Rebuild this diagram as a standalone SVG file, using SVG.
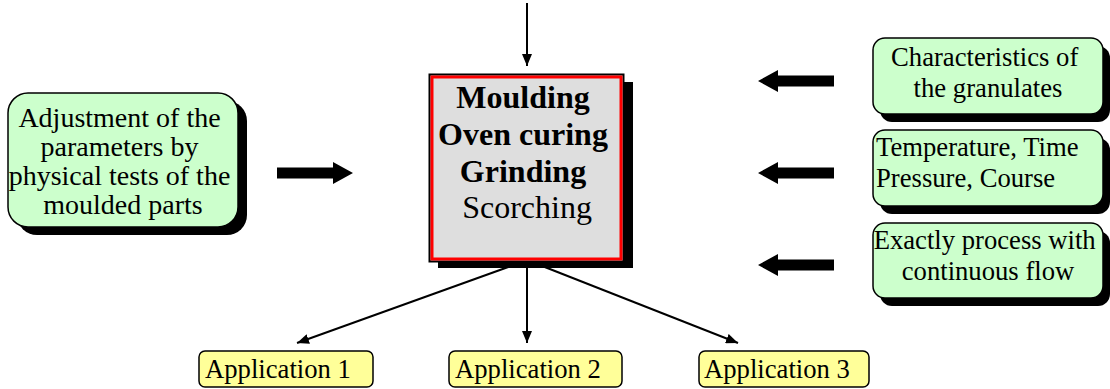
<svg xmlns="http://www.w3.org/2000/svg" width="1110" height="389" viewBox="0 0 1110 389">
  <style>
    .t { font-family: "Liberation Serif", "Times New Roman", serif; fill: #000; }
    .green { fill: #ccffcc; stroke: #000; stroke-width: 1.5; }
    .yellow { fill: #ffff99; stroke: #000; stroke-width: 1.5; }
    .shadow { fill: #000; }
    .thin { stroke: #000; stroke-width: 2; fill: none; marker-end: url(#ah); }
    .thick { fill: #000; }
  </style>
  <defs>
    <marker id="ah" markerUnits="userSpaceOnUse" markerWidth="12" markerHeight="10" refX="12" refY="5" orient="auto">
      <path d="M0,0 L12,5 L0,10 z" fill="#000"/>
    </marker>
  </defs>
  <rect width="1110" height="389" fill="#fff"/>

  <g id="connectors">
    <line class="thin" x1="527" y1="3" x2="527" y2="66"/>
    <line class="thin" x1="527" y1="262" x2="527" y2="343"/>
    <line class="thin" x1="522" y1="262" x2="297" y2="343"/>
    <line class="thin" x1="532" y1="262" x2="738" y2="343"/>
    <polygon class="thick" points="277,167.5 333,167.5 333,162 353,173 333,184 333,178.5 277,178.5"/>
    <polygon class="thick" points="834,75.5 778,75.5 778,70 758,81 778,92 778,86.5 834,86.5"/>
    <polygon class="thick" points="834,167.5 778,167.5 778,162 758,173 778,184 778,178.5 834,178.5"/>
    <polygon class="thick" points="834,259.5 778,259.5 778,254 758,265 778,276 778,270.5 834,270.5"/>
  </g>

  <g id="adjustment">
    <rect class="shadow" x="17" y="101" width="230" height="134" rx="20"/>
    <rect class="green" x="8" y="93" width="230" height="134" rx="20"/>
    <text class="t" font-size="28" text-anchor="middle">
      <tspan x="123" y="127">Adjustment of the</tspan>
      <tspan x="123" y="156">parameters by</tspan>
      <tspan x="123" y="185">physical tests of the</tspan>
      <tspan x="123" y="214">moulded parts</tspan>
    </text>
  </g>

  <g id="process">
    <rect class="shadow" x="438" y="82" width="195" height="186"/>
    <rect x="429.5" y="74.5" width="194" height="187" fill="#dedede" stroke="#000" stroke-width="2"/>
    <rect x="432" y="77" width="189" height="182" fill="none" stroke="#ff0000" stroke-width="3"/>
    <text class="t" font-size="32" text-anchor="middle">
      <tspan x="527" y="108" font-weight="bold">Moulding</tspan>
      <tspan x="527" y="145" font-weight="bold">Oven curing</tspan>
      <tspan x="527" y="182" font-weight="bold">Grinding</tspan>
      <tspan x="527" y="218">Scorching</tspan>
    </text>
  </g>

  <g id="characteristics">
    <rect class="shadow" x="880" y="46" width="230" height="76" rx="12"/>
    <rect class="green" x="873" y="38" width="230" height="76" rx="12"/>
    <text class="t" font-size="26.67" text-anchor="middle">
      <tspan x="988" y="66">Characteristics of</tspan>
      <tspan x="988" y="97">the granulates</tspan>
    </text>
  </g>

  <g id="temperature">
    <rect class="shadow" x="880" y="138" width="230" height="76" rx="12"/>
    <rect class="green" x="873" y="130" width="230" height="76" rx="12"/>
    <text class="t" font-size="26.67">
      <tspan x="876" y="156">Temperature, Time</tspan>
      <tspan x="876" y="187">Pressure, Course</tspan>
    </text>
  </g>

  <g id="flow">
    <rect class="shadow" x="880" y="231" width="230" height="75" rx="12"/>
    <rect class="green" x="873" y="223" width="230" height="75" rx="12"/>
    <text class="t" font-size="26.67" text-anchor="middle">
      <tspan x="988" y="249">Exactly process with</tspan>
      <tspan x="988" y="280">continuous flow</tspan>
    </text>
  </g>

  <g id="app1">
    <rect class="yellow" x="199" y="351" width="174" height="36" rx="6"/>
    <text class="t" font-size="26.67" x="205" y="378">Application 1</text>
  </g>
  <g id="app2">
    <rect class="yellow" x="449" y="351" width="173" height="36" rx="6"/>
    <text class="t" font-size="26.67" x="455" y="378">Application 2</text>
  </g>
  <g id="app3">
    <rect class="yellow" x="699" y="351" width="170" height="36" rx="6"/>
    <text class="t" font-size="26.67" x="704" y="378">Application 3</text>
  </g>
</svg>
